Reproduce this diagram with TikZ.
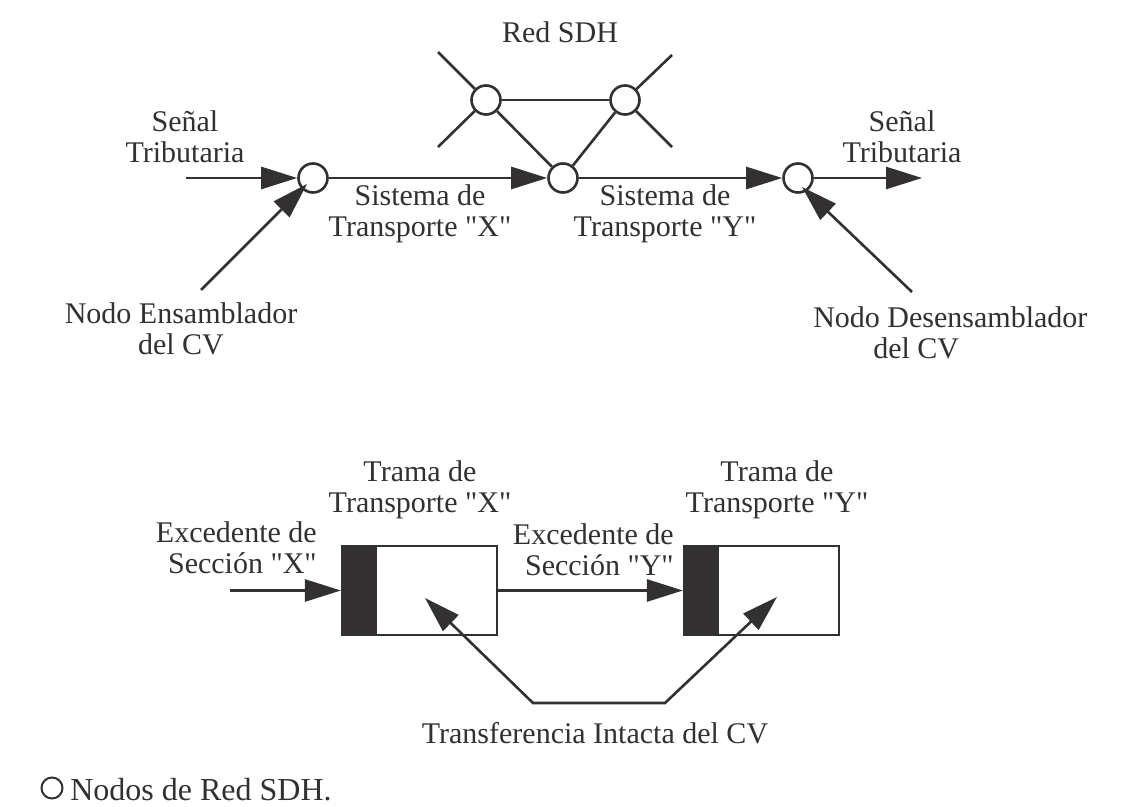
\documentclass[tikz,border=0pt]{standalone}
\usepackage{fontspec}
\setmainfont{Liberation Serif}
\usetikzlibrary{arrows.meta,calc}
\definecolor{ink}{RGB}{50,48,48}
\newcommand{\dq}{\textquotedbl{}}
\begin{document}
\begin{tikzpicture}[x=0.5pt,y=-0.5pt,color=ink,line width=1.3pt,
  sdh/.style={circle,draw,fill=white,minimum size=14.5pt,inner sep=0pt,line width=1.3pt},
  lbl/.style={font=\fontsize{15}{15.5}\selectfont,inner sep=0pt,align=center,anchor=base},
  arr/.style={-{Triangle[length=18pt,width=11pt]}},
  arrboth/.style={{Triangle[length=18pt,width=11pt]}-{Triangle[length=18pt,width=11pt]}},
  frame/.style={rectangle,draw,fill=white,line width=1.1pt,minimum width=77.5pt,minimum height=44.5pt,inner sep=0pt},
  band/.style={rectangle,draw,fill=ink,line width=1.1pt,minimum width=17pt,minimum height=44.5pt,inner sep=0pt,anchor=north west}]
\useasboundingbox (0,0) rectangle (1140,807);
\fill[white] (0,0) rectangle (1140,807);

% ---- SDH network nodes
\node[sdh] (A) at (313,178) {};
\node[sdh] (B) at (563,178) {};
\node[sdh] (C) at (486,100) {};
\node[sdh] (D) at (625,100) {};
\node[sdh] (E) at (798,178) {};

\coordinate (cUL) at (438,52);
\coordinate (cLL) at (438,147);
\coordinate (dUR) at (672,55);
\coordinate (dLR) at (672,147);

\draw (cUL) -- (C);
\draw (cLL) -- (C);
\draw (C) -- (B);
\draw (C) -- (D);
\draw (dUR) -- (D);
\draw (dLR) -- (D);
\draw (D) -- (B);

% ---- main signal path
\coordinate (inA) at (186,178);
\coordinate (outE) at (922,178);
\draw[arr] (inA) -- (A);
\draw[arr] (A) -- (B);
\draw[arr] (B) -- (E);
\draw[arr] (E) -- (outE);

\coordinate (asmT) at (201,290);
\coordinate (asmH) at (307,184);
\draw[arr] (asmT) -- (asmH);
\coordinate (desT) at (912,292);
\coordinate (desH) at (802,187);
\draw[arr] (desT) -- (desH);

% ---- top labels (anchor = baseline of last line)
\node[lbl] (red) at (560,43) {Red SDH};
\node[lbl] (st1) at (185,163) {Señal\\Tributaria};
\node[lbl] (st2) at (902,163) {Señal\\Tributaria};
\node[lbl] (sx) at (420,237) {Sistema de\\Transporte \dq X\dq};
\node[lbl] (sy) at (665,237) {Sistema de\\Transporte \dq Y\dq};
\node[lbl] (ens) at (181,355) {Nodo Ensamblador\\del CV};
\node[lbl,align=left,anchor=base west] (des) at (812,359) {Nodo Desensamblador\\\hspace*{30pt}del CV};

% ---- frames
\node[frame] (FX) at (419.5,590.5) {};
\node[band] (BX) at (FX.north west) {};
\node[frame] (FY) at (761.5,590.5) {};
\node[band] (BY) at (FY.north west) {};

\coordinate (inX) at (230,590.5);
\draw[arr] (inX) -- (FX.west);
\draw[arr] (FX.east) -- (FY.west);

\coordinate (tX) at (425,598);
\coordinate (bl) at (533,703);
\coordinate (br) at (665,703);
\coordinate (tY) at (777,597);
\draw[arrboth,line join=miter] (tX) -- (bl) -- (br) -- (tY);

% ---- bottom labels
\node[lbl] (tx) at (420,512) {Trama de\\Transporte \dq X\dq};
\node[lbl] (ty) at (777,512) {Trama de\\Transporte \dq Y\dq};
\node[lbl,align=right,anchor=base east] (ex) at (318,573) {Excedente de\\Sección \dq X\dq};
\node[lbl,align=right,anchor=base east] (ey) at (675,575) {Excedente de\\Sección \dq Y\dq};
\node[lbl] (tr) at (595,743) {Transferencia Intacta del CV};

% ---- legend
\node[circle,draw,fill=white,minimum size=10.5pt,inner sep=0pt,line width=1pt] (leg) at (52,788) {};
\node[lbl,font=\fontsize{16}{16.5}\selectfont,anchor=base west] (legt) at (69,800) {Nodos de Red SDH.};
\end{tikzpicture}
\end{document}
